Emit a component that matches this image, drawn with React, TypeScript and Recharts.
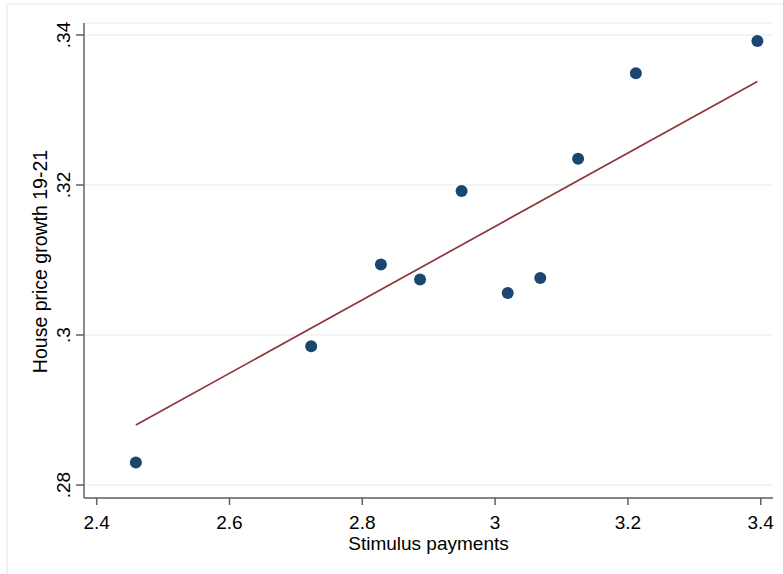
import React from "react";
import { ScatterChart, Scatter, XAxis, YAxis, CartesianGrid } from "recharts";

// Stimulus payments vs. house price growth 2019-21
const stimulus = [2.459, 2.723, 2.828, 2.887, 2.9495, 3.019, 3.068, 3.125, 3.212, 3.395];
const houseGrowth = [0.2830, 0.2985, 0.3094, 0.3074, 0.3192, 0.3056, 0.3076, 0.3235, 0.3349, 0.3392];

// Linear fit endpoints
const fitX = [2.459, 3.395];
const fitY = [0.2880, 0.3338];

const xTicks = [2.4, 2.6, 2.8, 3.0, 3.2, 3.4];
const xTickLabels = ["2.4", "2.6", "2.8", "3", "3.2", "3.4"];
const yTicks = [0.28, 0.3, 0.32, 0.34];
const yTickLabels = [".28", ".3", ".32", ".34"];

const points = stimulus.map((x, i) => ({ x, y: houseGrowth[i] }));
const fitLine = fitX.map((x, i) => ({ x, y: fitY[i] }));

const FONT = "Arial, 'Liberation Sans', sans-serif";
const AXIS_COLOR = "#606060";

const Dot = (props: any) => {
  const { cx, cy } = props;
  if (cx == null || cy == null) return <g />;
  return <circle cx={cx} cy={cy} r={6} fill="#1a476f" />;
};

const NoDot = () => <g />;

const XTick = (props: any) => {
  const { x, payload } = props;
  const idx = xTicks.findIndex((t) => Math.abs(t - payload.value) < 1e-9);
  return (
    <text x={x} y={528.5} textAnchor="middle" fontFamily={FONT} fontSize={19} fill="#000">
      {idx >= 0 ? xTickLabels[idx] : payload.value}
    </text>
  );
};

const YTick = (props: any) => {
  const { y, payload } = props;
  const idx = yTicks.findIndex((t) => Math.abs(t - payload.value) < 1e-9);
  const bx = 70;
  return (
    <text
      x={bx}
      y={y}
      textAnchor="middle"
      transform={`rotate(-90, ${bx}, ${y})`}
      fontFamily={FONT}
      fontSize={19}
      fill="#000"
    >
      {idx >= 0 ? yTickLabels[idx] : payload.value}
    </text>
  );
};

export default function App() {
  return (
    <div
      style={{
        position: "absolute",
        left: 0,
        top: 0,
        width: 783,
        height: 574,
        overflow: "hidden",
        background: "#fff",
      }}
    >
      <div
        style={{
          position: "absolute",
          left: 6,
          top: 3,
          width: 900,
          height: 700,
          border: "2px solid #edf2f4",
          boxSizing: "border-box",
        }}
      />
      <div style={{ position: "absolute", left: 0, top: 0 }}>
        <ScatterChart width={783} height={574} margin={{ top: 23, right: 10, bottom: 0, left: 0 }}>
          <CartesianGrid vertical={false} stroke="#eaf2f3" strokeWidth={1.5} />
          <XAxis
            type="number"
            dataKey="x"
            domain={[2.3809, 3.4185]}
            ticks={xTicks}
            height={76}
            tick={<XTick />}
            tickSize={7}
            axisLine={{ stroke: AXIS_COLOR, strokeWidth: 1.5 }}
            tickLine={{ stroke: AXIS_COLOR, strokeWidth: 1.5 }}
            allowDataOverflow
          />
          <YAxis
            type="number"
            dataKey="y"
            domain={[0.278267, 0.3416]}
            ticks={yTicks}
            width={84}
            tick={<YTick />}
            tickSize={8}
            axisLine={{ stroke: AXIS_COLOR, strokeWidth: 1.5 }}
            tickLine={{ stroke: AXIS_COLOR, strokeWidth: 1.5 }}
            allowDataOverflow
          />
          <Scatter
            data={fitLine}
            line={{ stroke: "#90353b", strokeWidth: 1.7 }}
            shape={<NoDot />}
            isAnimationActive={false}
          />
          <Scatter data={points} shape={<Dot />} isAnimationActive={false} />
        </ScatterChart>
      </div>
      <svg
        width={783}
        height={574}
        style={{ position: "absolute", left: 0, top: 0, pointerEvents: "none" }}
      >
        <text x={428.5} y={550} textAnchor="middle" fontFamily={FONT} fontSize={19} fill="#000">
          Stimulus payments
        </text>
        <text
          x={47}
          y={261.5}
          textAnchor="middle"
          transform="rotate(-90, 47, 261.5)"
          fontFamily={FONT}
          fontSize={19.5}
          fill="#000"
        >
          House price growth 19-21
        </text>
      </svg>
    </div>
  );
}
